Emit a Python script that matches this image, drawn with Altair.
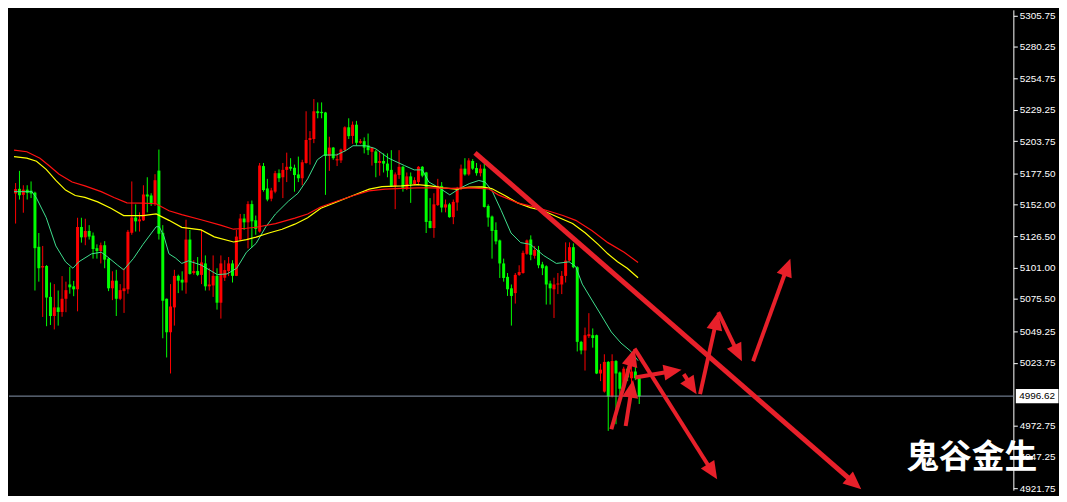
import math
import altair as alt
import pandas as pd

# ---------------- data ----------------
opens = [5161.2, 5165.0, 5160.1, 5164.3, 5163.5, 5161.9, 5117.9, 5101.1, 5102.3, 5077.2,
         5061.7, 5068.7, 5065.0, 5075.7, 5087.3, 5085.8, 5083.4, 5134.0, 5125.6, 5130.8,
         5127.0, 5116.8, 5114.5, 5119.2, 5108.3, 5084.2, 5090.4, 5075.7, 5081.9, 5083.4,
         5129.3, 5141.7, 5138.6, 5139.4, 5160.4, 5159.6, 5152.6, 5179.8, 5129.3, 5075.7,
         5048.5, 5068.7, 5094.3, 5091.2, 5088.9, 5123.8, 5096.6, 5098.2, 5095.1, 5104.4,
         5085.8, 5086.5, 5094.3, 5072.5, 5092.8, 5098.2, 5104.4, 5094.3, 5123.8, 5140.9,
         5137.8, 5152.6, 5139.4, 5130.3, 5183.5, 5165.3, 5157.0, 5162.7, 5177.7, 5174.4,
         5180.4, 5182.9, 5182.1, 5176.7, 5173.6, 5186.0, 5204.7, 5205.5, 5228.0, 5227.5,
         5227.0, 5191.7, 5198.5, 5188.1, 5188.1, 5196.4, 5215.0, 5208.0, 5217.1, 5202.4,
         5203.7, 5200.3, 5195.1, 5195.4, 5186.0, 5187.6, 5185.5, 5180.4, 5167.4, 5176.2,
         5182.9, 5165.3, 5175.1, 5168.9, 5170.5, 5182.9, 5178.3, 5138.9, 5133.2, 5151.8,
         5167.4, 5149.8, 5152.4, 5142.0, 5153.9, 5164.8, 5181.4, 5176.7, 5187.6, 5181.9,
         5177.7, 5181.4, 5151.1, 5142.5, 5131.6, 5123.1, 5104.4, 5093.5, 5084.2, 5080.3,
         5095.1, 5096.6, 5112.2, 5123.8, 5110.6, 5115.3, 5103.6, 5102.1, 5088.1, 5083.4,
         5087.3, 5087.3, 5094.3, 5106.7, 5117.6, 5101.3, 5040.7, 5033.7, 5045.3, 5046.1,
         5046.1, 5015.0, 5000.3, 5024.4, 4996.4, 5025.1, 5015.8, 5003.4, 5018.9, 5011.1,
         5016.6, 5011.1]
highs = [5169.7, 5179.6, 5167.9, 5167.9, 5171.0, 5162.7, 5129.1, 5118.6, 5103.1, 5088.9,
         5087.6, 5082.4, 5094.1, 5089.6, 5101.5, 5090.2, 5141.5, 5141.5, 5140.7, 5135.5,
         5129.5, 5119.9, 5121.3, 5122.5, 5108.8, 5098.0, 5099.2, 5087.6, 5100.5, 5131.6,
         5171.0, 5152.4, 5145.9, 5167.9, 5174.4, 5161.4, 5176.9, 5196.9, 5135.5, 5075.9,
         5087.6, 5099.2, 5095.3, 5098.0, 5139.9, 5131.6, 5107.0, 5109.6, 5131.6, 5110.9,
         5100.5, 5110.9, 5100.5, 5110.9, 5107.0, 5109.6, 5107.0, 5131.6, 5144.6, 5144.6,
         5154.9, 5155.5, 5143.3, 5186.0, 5186.0, 5173.1, 5165.8, 5179.6, 5180.8, 5186.0,
         5194.4, 5189.9, 5184.7, 5191.2, 5188.6, 5228.0, 5211.9, 5237.9, 5235.2, 5235.2,
         5227.5, 5207.3, 5199.0, 5193.8, 5197.7, 5215.8, 5222.3, 5219.7, 5220.2, 5205.5,
         5206.8, 5209.9, 5199.0, 5196.9, 5195.1, 5193.8, 5193.8, 5196.4, 5178.3, 5196.4,
         5183.5, 5178.3, 5178.3, 5174.4, 5183.5, 5183.5, 5178.8, 5157.5, 5161.4, 5173.1,
         5170.5, 5156.3, 5153.6, 5156.3, 5166.6, 5184.7, 5189.9, 5189.9, 5189.1, 5186.0,
         5184.7, 5185.5, 5152.4, 5143.3, 5137.8, 5123.8, 5108.3, 5096.6, 5087.3, 5096.6,
         5102.9, 5114.8, 5123.8, 5127.2, 5118.6, 5118.6, 5105.7, 5102.9, 5090.4, 5092.8,
         5096.6, 5098.2, 5121.5, 5121.5, 5120.7, 5102.1, 5041.5, 5052.3, 5064.0, 5051.6,
         5046.6, 5022.8, 5030.6, 5025.1, 5030.6, 5025.9, 5016.6, 5020.5, 5020.5, 5021.2,
         5020.5, 5012.7]
lows = [5136.8, 5156.3, 5145.6, 5156.3, 5157.5, 5082.4, 5089.6, 5060.9, 5053.4, 5054.4,
        5050.8, 5053.9, 5061.1, 5064.8, 5079.8, 5077.8, 5065.5, 5121.3, 5119.2, 5123.8,
        5108.3, 5108.3, 5104.4, 5100.5, 5081.9, 5074.6, 5061.7, 5074.6, 5064.2, 5079.8,
        5127.7, 5130.3, 5130.3, 5138.9, 5145.9, 5151.1, 5151.1, 5123.8, 5043.6, 5028.0,
        5015.0, 5053.9, 5080.3, 5082.4, 5079.8, 5095.3, 5095.3, 5094.1, 5087.6, 5082.4,
        5082.4, 5077.2, 5066.9, 5059.6, 5090.2, 5094.1, 5088.9, 5094.1, 5122.5, 5131.6,
        5116.6, 5117.4, 5127.7, 5129.5, 5162.7, 5154.9, 5154.9, 5161.4, 5170.5, 5157.5,
        5170.5, 5179.6, 5162.7, 5170.5, 5167.9, 5185.5, 5184.7, 5202.1, 5222.3, 5222.3,
        5160.1, 5179.6, 5188.6, 5183.5, 5186.0, 5195.1, 5205.5, 5201.6, 5200.3, 5201.6,
        5193.8, 5192.5, 5183.9, 5174.4, 5175.7, 5178.3, 5174.4, 5166.6, 5148.5, 5173.1,
        5162.7, 5164.0, 5153.6, 5167.9, 5167.9, 5174.4, 5129.1, 5132.9, 5125.2, 5151.1,
        5145.9, 5145.9, 5141.5, 5136.3, 5147.2, 5164.0, 5175.7, 5175.7, 5180.4, 5175.7,
        5175.1, 5149.8, 5134.2, 5108.3, 5119.9, 5092.6, 5089.6, 5078.0, 5053.9, 5071.8,
        5094.3, 5096.1, 5111.4, 5107.0, 5108.3, 5100.5, 5094.9, 5071.0, 5071.0, 5060.1,
        5079.5, 5079.5, 5088.9, 5106.0, 5100.5, 5032.9, 5030.6, 5017.4, 5043.8, 5036.0,
        5014.5, 5008.8, 4999.5, 4968.4, 4995.6, 4973.8, 4994.0, 5001.0, 5008.8, 5007.3,
        5009.6, 4990.2]
closes = [5164.8, 5159.8, 5164.3, 5161.7, 5161.2, 5116.8, 5100.5, 5102.3, 5076.7, 5061.7,
          5068.7, 5065.0, 5075.7, 5082.7, 5085.0, 5083.4, 5134.0, 5125.6, 5130.8, 5126.2,
          5116.1, 5114.5, 5119.2, 5107.5, 5084.2, 5090.4, 5075.7, 5082.7, 5084.2, 5130.1,
          5141.7, 5138.6, 5140.2, 5160.4, 5158.8, 5152.6, 5172.0, 5128.5, 5074.1, 5048.5,
          5069.4, 5094.3, 5090.4, 5088.9, 5123.8, 5095.9, 5098.2, 5095.1, 5105.2, 5085.8,
          5087.3, 5094.3, 5072.5, 5104.4, 5099.0, 5104.4, 5094.3, 5126.2, 5140.9, 5137.8,
          5152.6, 5138.6, 5132.4, 5183.9, 5164.0, 5156.3, 5163.7, 5177.7, 5173.6, 5180.4,
          5182.9, 5181.4, 5176.2, 5173.6, 5186.6, 5204.7, 5206.2, 5228.0, 5226.5, 5226.5,
          5191.7, 5198.5, 5189.9, 5189.1, 5196.9, 5215.0, 5207.8, 5217.1, 5202.4, 5203.7,
          5198.5, 5196.4, 5198.5, 5186.0, 5187.6, 5185.5, 5179.8, 5167.4, 5176.7, 5182.9,
          5165.3, 5175.1, 5168.9, 5172.0, 5182.9, 5175.7, 5138.1, 5133.2, 5152.4, 5167.4,
          5149.8, 5152.4, 5142.0, 5154.4, 5165.3, 5181.4, 5176.7, 5188.1, 5181.4, 5177.7,
          5181.4, 5150.3, 5141.7, 5130.8, 5122.3, 5104.4, 5092.6, 5083.4, 5078.0, 5095.1,
          5097.4, 5113.0, 5123.1, 5111.4, 5115.3, 5102.9, 5100.5, 5087.3, 5084.2, 5087.3,
          5088.1, 5094.3, 5106.7, 5117.6, 5101.3, 5040.7, 5033.7, 5046.1, 5046.9, 5043.8,
          5015.0, 5018.1, 5024.4, 4996.4, 5025.1, 5015.0, 5002.6, 5018.9, 5011.9, 5016.6,
          5011.1, 4996.6]

ma_fast_x = [-0.4, 4.2, 5.4, 7.9, 10.4, 12.9, 14.8, 16.3, 19.6, 22.1, 23.8, 26.3, 27.9, 30.4,
             32.9, 36.3, 37.1, 38.3, 39.6, 41.3, 42.9, 44.6, 47.9, 52.1, 54.6, 57.1, 59.6,
             62.1, 64.6, 67.1, 70.4, 72.9, 75.4, 77.9, 79.6, 82.9, 85.4, 87.1, 90.4, 92.9,
             96.3, 100.4, 102.9, 105.0, 106.7, 109.6, 112.1, 114.6, 117.1, 119.6, 121.2,
             123.0, 125.4, 127.9, 130.4, 132.9, 136.3, 139.6, 142.9, 144.6, 146.3, 148.8,
             151.3, 153.8, 156.3, 158.8, 160.7]
ma_fast = [5162.7, 5162.7, 5157.5, 5141.7, 5118.6, 5105.7, 5100.5, 5105.7, 5112.2, 5113.5,
           5109.6, 5103.1, 5099.2, 5108.3, 5119.9, 5134.2, 5134.2, 5126.4, 5112.2, 5108.8,
           5104.4, 5106.5, 5103.1, 5095.3, 5095.9, 5100.5, 5113.5, 5120.7, 5134.2, 5144.6,
           5154.9, 5161.4, 5173.1, 5188.6, 5192.5, 5192.5, 5196.4, 5200.0, 5200.0, 5197.7,
           5189.9, 5183.9, 5180.4, 5180.4, 5170.5, 5165.3, 5160.1, 5165.3, 5169.2, 5171.8,
           5170.5, 5163.5, 5147.2, 5129.1, 5121.3, 5119.9, 5110.9, 5104.4, 5105.7, 5101.9,
           5087.6, 5074.6, 5061.7, 5048.7, 5039.7, 5033.1, 5025.4]

ma_mid_x = [-0.4, 2.9, 5.4, 7.9, 10.4, 12.9, 15.4, 17.9, 21.2, 24.6, 27.9, 32.9, 36.3, 39.6,
            42.9, 47.9, 51.3, 56.3, 59.6, 62.1, 65.4, 68.8, 72.1, 75.4, 78.8, 82.9, 87.1,
            91.3, 94.6, 99.6, 103.8, 107.1, 110.4, 113.8, 117.1, 120.4, 122.9, 126.3, 129.6,
            132.9, 136.3, 139.6, 143.8, 147.1, 150.4, 152.9, 155.4, 157.9, 160.7]
ma_mid = [5191.2, 5189.9, 5187.4, 5180.8, 5171.8, 5164.0, 5159.6, 5158.0, 5154.4, 5149.3,
          5143.3, 5143.3, 5144.6, 5139.4, 5133.7, 5131.6, 5126.0, 5121.8, 5123.8, 5125.8,
          5129.1, 5132.2, 5136.3, 5141.5, 5149.3, 5154.4, 5159.6, 5164.8, 5166.8, 5167.4,
          5168.4, 5167.4, 5165.8, 5164.8, 5166.4, 5166.6, 5165.3, 5159.6, 5153.6, 5149.7,
          5147.2, 5142.5, 5136.8, 5129.1, 5119.9, 5112.2, 5105.7, 5100.5, 5092.8]

ma_slow_x = [-0.4, 2.9, 6.3, 8.75, 11.25, 14.6, 17.9, 22.1, 25.4, 28.75, 32.9, 36.25, 39.6,
             42.9, 47.9, 52.9, 56.25, 59.6, 62.1, 67.1, 72.1, 75.4, 78.75, 82.9, 87.1, 91.25,
             95.4, 99.6, 103.75, 107.1, 112.1, 117.1, 122.1, 124.6, 129.6, 134.6, 138.0,
             141.3, 144.6, 148.75, 152.9, 157.1, 160.7]
ma_slow = [5196.4, 5195.1, 5189.9, 5183.5, 5176.9, 5170.5, 5167.4, 5162.7, 5158.0, 5153.6,
           5153.4, 5152.9, 5147.2, 5144.1, 5139.9, 5135.5, 5132.2, 5133.0, 5133.8, 5136.8,
           5141.2, 5144.6, 5150.3, 5154.9, 5159.4, 5163.3, 5164.8, 5165.3, 5165.8, 5165.8,
           5165.3, 5165.8, 5165.0, 5160.1, 5153.6, 5149.7, 5146.6, 5143.3, 5139.4, 5131.1,
           5121.3, 5113.5, 5105.2]

price_ticks = [5305.75, 5280.25, 5254.75, 5229.25, 5203.75, 5177.50, 5152.00, 5126.50,
               5101.00, 5075.50, 5049.25, 5023.75, 4972.75, 4947.25, 4921.75]
last_price = 4996.62
last_label = "4996.62"
watermark = "鬼谷金生"

# hand-drawn arrows (bar index, price)
arrow_tail_x = [118.6, 153.8, 157.5, 159.8, 160.0, 172.5, 176.7, 181.4, 190.4]
arrow_tail_y = [5194.3, 4969.7, 4972.3, 5035.2, 5011.7, 5014.5, 4998.2, 5064.8, 5024.9]
arrow_tip_x = [218.3, 159.8, 159.4, 181.1, 171.9, 175.8, 181.4, 187.5, 200.0]
arrow_tip_y = [4921.0, 5035.2, 5009.8, 4929.0, 5018.1, 4998.2, 5064.8, 5024.9, 5108.3]
arrow_width = [5, 4, 4, 4, 4, 4, 4, 4, 4]

# ---------------- layout ----------------
W, H = 1012, 484
X0, X1 = -0.42, 256.3
Y0, Y1 = 4920.2, 5310.4
RED, GREEN = "#ff0000", "#00ff00"
ARROW = "#e8202a"

xs = alt.Scale(domain=[X0, X1], nice=False, zero=False)
ys = alt.Scale(domain=[Y0, Y1], nice=False, zero=False)

yaxis = alt.Axis(orient="right", values=price_ticks, format=".2f", grid=False,
                 domainColor="#ffffff", domainWidth=1, tickColor="#ffffff", tickSize=4,
                 labelColor="#ffffff", labelFont="Liberation Sans", labelFontSize=10,
                 labelPadding=2, title=None)


def X(field):
    return alt.X(field, scale=xs, axis=None)


def Y(field):
    return alt.Y(field, scale=ys, axis=yaxis)


n = len(opens)
candles = pd.DataFrame({
    "i": list(range(n)), "open": opens, "high": highs, "low": lows, "close": closes,
})
candles["dir"] = ["up" if c >= o else "down" for o, c in zip(opens, closes)]
candles["lo"] = candles[["open", "close"]].min(axis=1)
candles["hi"] = candles[["open", "close"]].max(axis=1)

col = alt.Color("dir:N", scale=alt.Scale(domain=["up", "down"], range=[RED, GREEN]), legend=None)

wicks = alt.Chart(candles).mark_rule(strokeWidth=1).encode(
    x=X("i:Q"), y=Y("low:Q"), y2="high:Q", color=col)
bodies = alt.Chart(candles).mark_bar(width=3).encode(
    x=X("i:Q"), y=Y("lo:Q"), y2="hi:Q", color=col)


def ma_layer(xv, vv, color, w):
    df = pd.DataFrame({"x": xv, "v": vv})
    return alt.Chart(df).mark_line(color=color, strokeWidth=w).encode(
        x=X("x:Q"), y=Y("v:Q"), order="x:Q")


ma1 = ma_layer(ma_fast_x, ma_fast, "#3ee08e", 1)
ma2 = ma_layer(ma_mid_x, ma_mid, "#ffff00", 1.2)
ma3 = ma_layer(ma_slow_x, ma_slow, "#ff1010", 1.2)

price_line = alt.Chart(pd.DataFrame({"p": [last_price]})).mark_rule(
    color="#8797ad", strokeWidth=1).encode(y=Y("p:Q"))


# arrows
def to_px(i, p):
    return (i - X0) / (X1 - X0) * W, (Y1 - p) / (Y1 - Y0) * H


def to_data(x, y):
    return X0 + x / W * (X1 - X0), Y1 - y / H * (Y1 - Y0)


HEAD = 400
back = math.sqrt(HEAD) / 2
shafts, heads = [], []
for tx, ty, hx, hy, w in zip(arrow_tail_x, arrow_tail_y, arrow_tip_x, arrow_tip_y, arrow_width):
    ax, ay = to_px(tx, ty)
    bx, by = to_px(hx, hy)
    L = math.hypot(bx - ax, by - ay)
    ux, uy = (bx - ax) / L, (by - ay) / L
    cx, cy = bx - back * ux, by - back * uy
    ang = math.degrees(math.atan2(ux, -uy)) % 360
    dxv, dyv = to_data(cx, cy)
    shafts.append({"x": tx, "y": ty, "x2": dxv, "y2": dyv, "w": w})
    heads.append({"x": dxv, "y": dyv, "a": ang})

shaft_layer = alt.Chart(pd.DataFrame(shafts)).mark_rule(color=ARROW).encode(
    x=X("x:Q"), y=Y("y:Q"), x2="x2:Q", y2="y2:Q",
    strokeWidth=alt.StrokeWidth("w:Q", scale=None),
)
head_layer = alt.Chart(pd.DataFrame(heads)).mark_point(
    shape="M0,-1L0.8,0.8L-0.8,0.8Z", filled=True, size=HEAD, opacity=1,
    color=ARROW, strokeWidth=0).encode(
    x=X("x:Q"), y=Y("y:Q"), angle=alt.Angle("a:Q", scale=None),
)

label_df = pd.DataFrame({"p": [last_price], "t": [last_label]})
label_box = alt.Chart(label_df).mark_point(
    shape="M-1,-0.33L1,-0.33L1,0.33L-1,0.33Z", filled=True, size=1849, opacity=1,
    color="#ffffff", strokeWidth=0).encode(
    x=alt.value(W + 24), y=Y("p:Q"))
label_text = alt.Chart(label_df).mark_text(
    align="left", baseline="middle", font="Liberation Sans", fontSize=10,
    color="#000000").encode(
    x=alt.value(W + 6), y=Y("p:Q"), text="t:N")

wm = alt.Chart(pd.DataFrame({"t": [watermark]})).mark_text(
    font="Noto Sans CJK SC", fontSize=33, fontWeight="bold", color="#ffffff",
    align="center", baseline="middle").encode(
    text="t:N", x=alt.value(970), y=alt.value(452))

chart = alt.layer(
    wicks, bodies, ma1, ma2, ma3, price_line, shaft_layer, head_layer,
    label_box, label_text, wm,
).properties(
    width=W, height=H, background="#000000", padding=0,
).configure_view(strokeWidth=0)

chart.save("out.html", embed_options={"renderer": "svg", "actions": False})
